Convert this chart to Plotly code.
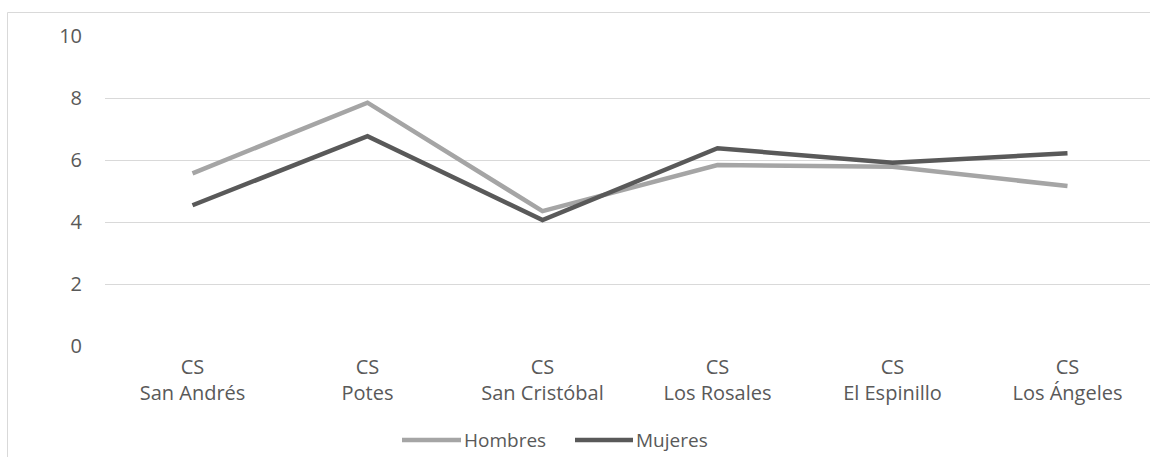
import plotly.graph_objects as go

# Health centres (two-line tick labels)
categories = ["CS<br>San Andrés", "CS<br>Potes", "CS<br>San Cristóbal",
              "CS<br>Los Rosales", "CS<br>El Espinillo", "CS<br>Los Ángeles"]
series_names = ["Hombres", "Mujeres"]
hombres = [5.57, 7.85, 4.35, 5.84, 5.78, 5.16]
mujeres = [4.54, 6.77, 4.06, 6.38, 5.91, 6.22]
y_ticks = [0, 2, 4, 6, 8, 10]

colors = ["#a5a5a5", "#595959"]
text_color = "#595959"
grid_color = "#d9d9d9"
font_family = "Open Sans, Noto Sans, sans-serif"
font_size = 20

W, H = 1150, 457
left, top, bottom = 105, 36, 111
plot_w = W - left
plot_h = H - top - bottom

fig = go.Figure()
for name, vals, col in zip(series_names, [hombres, mujeres], colors):
    fig.add_trace(go.Scatter(
        x=list(range(len(categories))), y=vals, name=name, mode="lines",
        line=dict(color=col, width=4.5), showlegend=False,
    ))

def px_x(p):
    return (p - left) / plot_w

def px_y(p):
    return (H - bottom - p) / plot_h

shapes = [
    # outer chart border (continues past the right and bottom edges)
    dict(type="rect", xref="paper", yref="paper",
         x0=px_x(7.5), x1=px_x(W + 20), y0=px_y(H + 20), y1=px_y(12.5),
         line=dict(color=grid_color, width=1), fillcolor="rgba(0,0,0,0)", layer="below"),
]
annotations = []

# legend: line samples followed by series names
legend_items = [(402, 461), (575, 633)]
legend_y = 440
for (x0, x1), name, col in zip(legend_items, series_names, colors):
    shapes.append(dict(type="line", xref="paper", yref="paper",
                       x0=px_x(x0), x1=px_x(x1), y0=px_y(legend_y), y1=px_y(legend_y),
                       line=dict(color=col, width=4.5)))
    annotations.append(dict(xref="paper", yref="paper", x=px_x(x1 + 1), y=px_y(legend_y),
                            text=name, showarrow=False, xanchor="left", yanchor="middle",
                            font=dict(family=font_family, size=font_size - 1, color=text_color)))

fig.update_layout(
    width=W, height=H,
    margin=dict(l=left, r=0, t=top, b=bottom, pad=0),
    paper_bgcolor="white", plot_bgcolor="white",
    font=dict(family=font_family, size=font_size, color=text_color),
    shapes=shapes, annotations=annotations,
    showlegend=False,
)
fig.update_xaxes(
    tickmode="array", tickvals=list(range(len(categories))), ticktext=categories,
    range=[-0.5, -0.5 + 6 * plot_w / 1050], showgrid=False, zeroline=False,
    showline=False, ticks="", ticklabelstandoff=7,
)
fig.update_yaxes(
    range=[0, 10], tickvals=y_ticks, showgrid=True, gridcolor=grid_color, gridwidth=1,
    zeroline=False, showline=False, ticks="", ticklabelstandoff=22,
)

fig.write_html("out.html")
